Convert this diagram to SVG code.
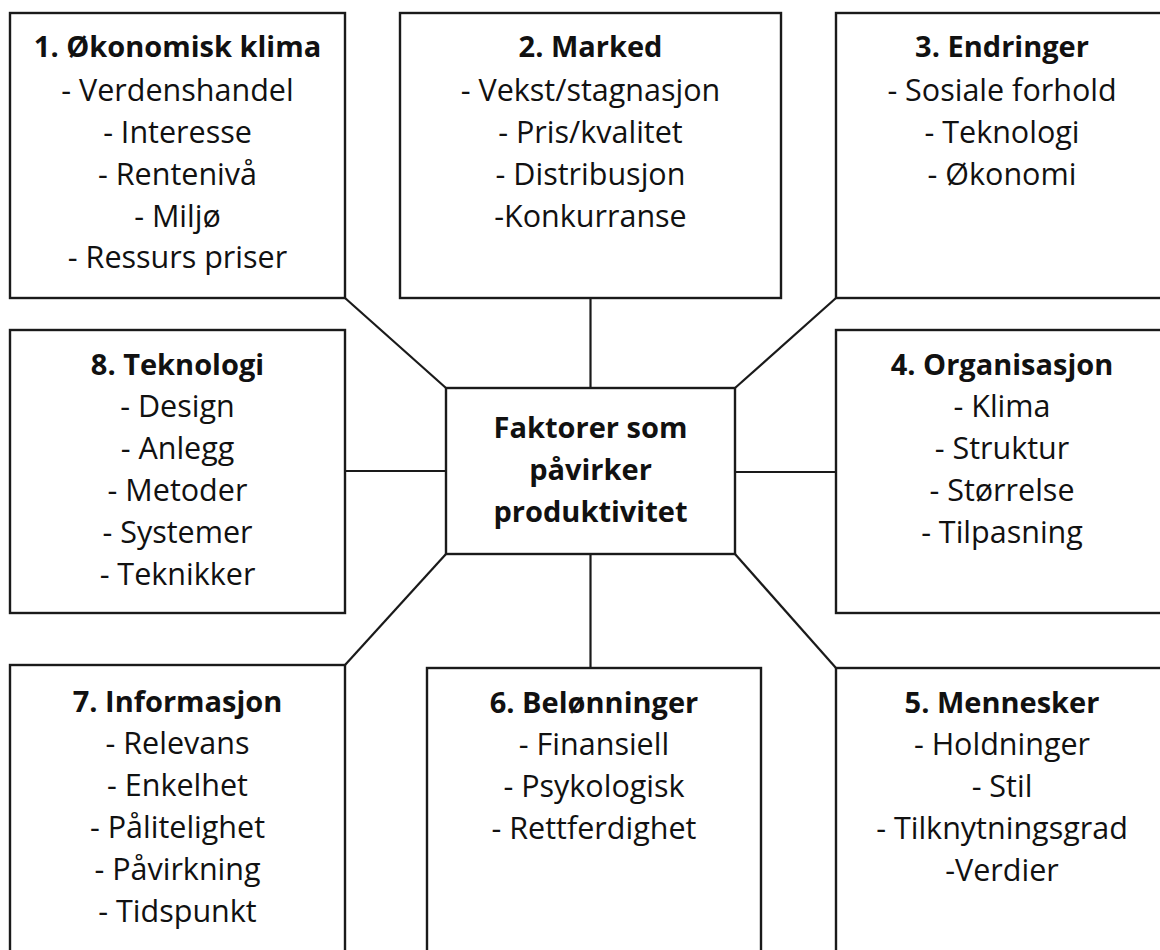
<svg xmlns="http://www.w3.org/2000/svg" width="1160" height="950" viewBox="0 0 1160 950">
  <style>
    .box { fill: #ffffff; stroke: #1a1a1a; stroke-width: 2.4; }
    .link { stroke: #1a1a1a; stroke-width: 2.2; fill: none; }
    text { font-family: "Open Sans", "Noto Sans", "Liberation Sans", sans-serif; fill: #111111; text-anchor: middle; }
    .title { font-size: 29px; font-weight: bold; }
    .item { font-size: 30.5px; }
  </style>
  <rect width="1160" height="950" fill="#ffffff"/>

  <!-- connectors from the central box to the eight factor boxes -->
  <g id="connectors">
    <line class="link" x1="590.5" y1="298" x2="590.5" y2="388"/>
    <line class="link" x1="590.5" y1="554" x2="590.5" y2="668"/>
    <line class="link" x1="345" y1="471" x2="446" y2="471"/>
    <line class="link" x1="735" y1="472" x2="836" y2="472"/>
    <line class="link" x1="345" y1="298" x2="446" y2="388"/>
    <line class="link" x1="836" y1="298" x2="735" y2="388"/>
    <line class="link" x1="345" y1="665" x2="446" y2="554"/>
    <line class="link" x1="836" y1="668" x2="735" y2="554"/>
  </g>

  <g id="center">
    <rect class="box" x="446" y="388" width="289" height="166"/>
    <text class="title" x="590.5" y="438">Faktorer som</text>
    <text class="title" x="590.5" y="480">påvirker</text>
    <text class="title" x="590.5" y="522">produktivitet</text>
  </g>

  <g id="n1-okonomisk-klima">
    <rect class="box" x="10" y="13" width="335" height="285"/>
    <text class="title" x="177.5" y="57">1. Økonomisk klima</text>
    <text class="item" x="177.5" y="101">- Verdenshandel</text>
    <text class="item" x="177.5" y="143">- Interesse</text>
    <text class="item" x="177.5" y="185">- Rentenivå</text>
    <text class="item" x="177.5" y="227">- Miljø</text>
    <text class="item" x="177.5" y="268">- Ressurs priser</text>
  </g>

  <g id="n2-marked">
    <rect class="box" x="400" y="13" width="381" height="285"/>
    <text class="title" x="590.5" y="57">2. Marked</text>
    <text class="item" x="590.5" y="101">- Vekst/stagnasjon</text>
    <text class="item" x="590.5" y="143">- Pris/kvalitet</text>
    <text class="item" x="590.5" y="185">- Distribusjon</text>
    <text class="item" x="590.5" y="227">-Konkurranse</text>
  </g>

  <g id="n3-endringer">
    <rect class="box" x="836" y="13" width="332" height="285"/>
    <text class="title" x="1002" y="57">3. Endringer</text>
    <text class="item" x="1002" y="101">- Sosiale forhold</text>
    <text class="item" x="1002" y="143">- Teknologi</text>
    <text class="item" x="1002" y="185">- Økonomi</text>
  </g>

  <g id="n4-organisasjon">
    <rect class="box" x="836" y="330" width="332" height="283"/>
    <text class="title" x="1002" y="375">4. Organisasjon</text>
    <text class="item" x="1002" y="417">- Klima</text>
    <text class="item" x="1002" y="459">- Struktur</text>
    <text class="item" x="1002" y="501">- Størrelse</text>
    <text class="item" x="1002" y="543">- Tilpasning</text>
  </g>

  <g id="n5-mennesker">
    <rect class="box" x="836" y="668" width="332" height="290"/>
    <text class="title" x="1002" y="713">5. Mennesker</text>
    <text class="item" x="1002" y="755">- Holdninger</text>
    <text class="item" x="1002" y="797">- Stil</text>
    <text class="item" x="1002" y="839">- Tilknytningsgrad</text>
    <text class="item" x="1002" y="881">-Verdier</text>
  </g>

  <g id="n6-belonninger">
    <rect class="box" x="427" y="668" width="334" height="290"/>
    <text class="title" x="594" y="713">6. Belønninger</text>
    <text class="item" x="594" y="755">- Finansiell</text>
    <text class="item" x="594" y="797">- Psykologisk</text>
    <text class="item" x="594" y="839">- Rettferdighet</text>
  </g>

  <g id="n7-informasjon">
    <rect class="box" x="10" y="665" width="335" height="293"/>
    <text class="title" x="177.5" y="712">7. Informasjon</text>
    <text class="item" x="177.5" y="754">- Relevans</text>
    <text class="item" x="177.5" y="796">- Enkelhet</text>
    <text class="item" x="177.5" y="838">- Pålitelighet</text>
    <text class="item" x="177.5" y="880">- Påvirkning</text>
    <text class="item" x="177.5" y="922">- Tidspunkt</text>
  </g>

  <g id="n8-teknologi">
    <rect class="box" x="10" y="330" width="335" height="283"/>
    <text class="title" x="177.5" y="375">8. Teknologi</text>
    <text class="item" x="177.5" y="417">- Design</text>
    <text class="item" x="177.5" y="459">- Anlegg</text>
    <text class="item" x="177.5" y="501">- Metoder</text>
    <text class="item" x="177.5" y="543">- Systemer</text>
    <text class="item" x="177.5" y="585">- Teknikker</text>
  </g>
</svg>
